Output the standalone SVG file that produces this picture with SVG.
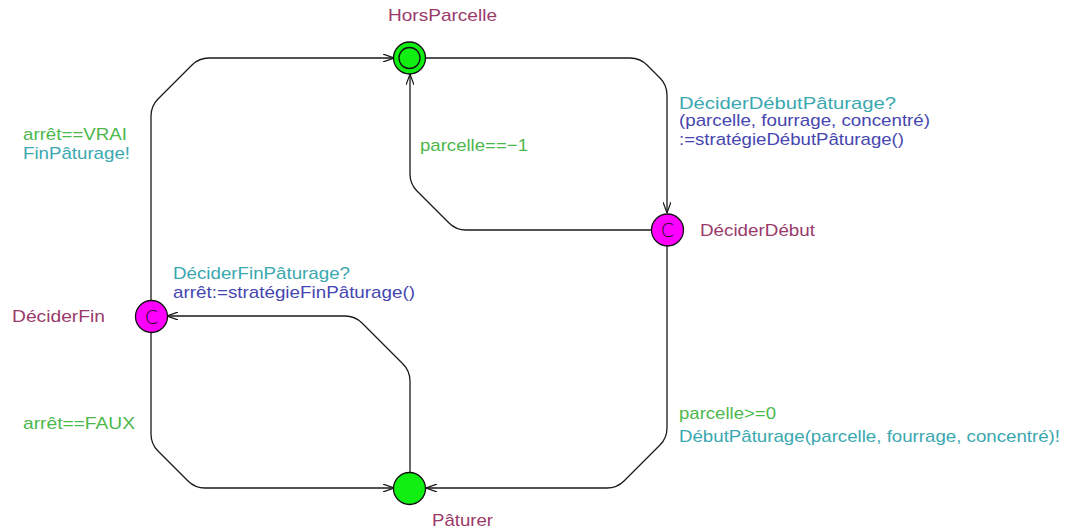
<svg xmlns="http://www.w3.org/2000/svg" width="1066" height="532" viewBox="0 0 1066 532">
<style>
text{font-family:"Liberation Sans",Arial,sans-serif;font-size:17px}
.name{fill:#9a3a6a}
.guard{fill:#4cb84c}
.sync{fill:#3aa8b0}
.assign{fill:#4646b0}
.edge{fill:none;stroke:#1a1a1a;stroke-width:1.3;marker-end:url(#arr)}
.loc{stroke:#111;stroke-width:1.3}
.green{fill:#11ee11}
.comm{fill:#ff00ff}
.c{font-size:19px;fill:#111;font-family:"DejaVu Sans","Liberation Sans",sans-serif;font-weight:200}
</style>
<defs>
<marker id="arr" viewBox="0 0 11 8" refX="11" refY="4" markerWidth="11" markerHeight="8" markerUnits="userSpaceOnUse" orient="auto">
<path d="M0,0 L11,4 L0,8" fill="none" stroke="#1a1a1a" stroke-width="1.2"/>
</marker>
</defs>
<g id="connectors">
<path class="edge" d="M426,58 H630 Q640,58 647,65 L660,78 Q667,85 667,95 V213"/>
<path class="edge" d="M651,230 H466 Q456,230 449,223 L417,191 Q410,184 410,174 V74"/>
<path class="edge" d="M667,246 V428 Q667,438 660,445 L624,481 Q617,488 607,488 H426"/>
<path class="edge" d="M410,472 V381 Q410,371 403,364 L362,323 Q355,316 345,316 H167"/>
<path class="edge" d="M151,332 V434 Q151,444 158,451 L188,481 Q195,488 205,488 H394"/>
<path class="edge" d="M151,300 V116 Q151,106 158,99 L192,65 Q199,58 209,58 H394"/>
</g>
<g id="labels">
<text class="sync" x="679" y="109" textLength="217" lengthAdjust="spacingAndGlyphs">DéciderDébutPâturage?</text>
<text class="assign" x="679" y="126" textLength="251" lengthAdjust="spacingAndGlyphs">(parcelle, fourrage, concentré)</text>
<text class="assign" x="679" y="145" textLength="225" lengthAdjust="spacingAndGlyphs">:=stratégieDébutPâturage()</text>
<text class="guard" x="420" y="151" textLength="108" lengthAdjust="spacingAndGlyphs">parcelle==−1</text>
<text class="guard" x="23" y="140" textLength="104" lengthAdjust="spacingAndGlyphs">arrêt==VRAI</text>
<text class="sync" x="23" y="159" textLength="107" lengthAdjust="spacingAndGlyphs">FinPâturage!</text>
<text class="sync" x="173" y="279" textLength="177" lengthAdjust="spacingAndGlyphs">DéciderFinPâturage?</text>
<text class="assign" x="173" y="298" textLength="242" lengthAdjust="spacingAndGlyphs">arrêt:=stratégieFinPâturage()</text>
<text class="guard" x="23" y="429" textLength="112" lengthAdjust="spacingAndGlyphs">arrêt==FAUX</text>
<text class="guard" x="679" y="419" textLength="97" lengthAdjust="spacingAndGlyphs">parcelle&gt;=0</text>
<text class="sync" x="679" y="442" textLength="381" lengthAdjust="spacingAndGlyphs">DébutPâturage(parcelle, fourrage, concentré)!</text>
</g>
<g id="HorsParcelle">
<circle class="loc green" cx="409.5" cy="58" r="16"/>
<circle class="loc green" cx="409.5" cy="58" r="10.5" fill="none"/>
<text class="name" x="388" y="21" textLength="109" lengthAdjust="spacingAndGlyphs">HorsParcelle</text>
</g>
<g id="DeciderDebut">
<circle class="loc comm" cx="667.5" cy="230" r="16"/>
<text class="c" x="667.5" y="237" text-anchor="middle">C</text>
<text class="name" x="700" y="236" textLength="115" lengthAdjust="spacingAndGlyphs">DéciderDébut</text>
</g>
<g id="DeciderFin">
<circle class="loc comm" cx="151.5" cy="316.5" r="16"/>
<text class="c" x="151.5" y="323.5" text-anchor="middle">C</text>
<text class="name" x="12" y="322" textLength="93" lengthAdjust="spacingAndGlyphs">DéciderFin</text>
</g>
<g id="Paturer">
<circle class="loc green" cx="409.5" cy="488.5" r="16"/>
<text class="name" x="432" y="526" textLength="61" lengthAdjust="spacingAndGlyphs">Pâturer</text>
</g>
</svg>
